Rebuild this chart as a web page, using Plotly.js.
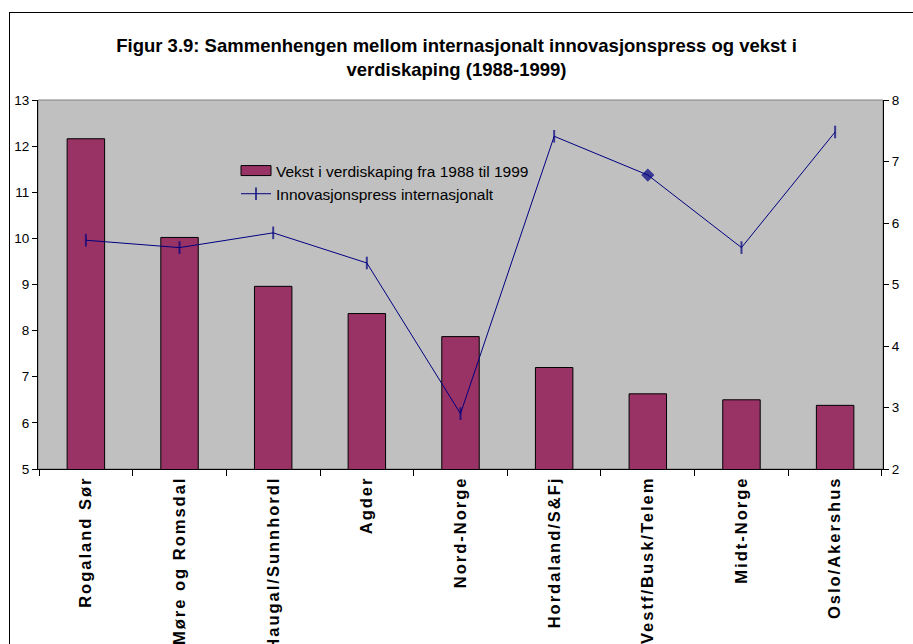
<!DOCTYPE html>
<html>
<head>
<meta charset="utf-8">
<script src="https://cdn.plot.ly/plotly-3.0.1.min.js"></script>
<style>
  html, body { margin: 0; padding: 0; background: #ffffff; }
  #wrap { position: relative; width: 913px; height: 644px; overflow: hidden; }
  #chart { position: absolute; left: 0; top: 0; width: 913px; height: 644px; }
  #frame { position: absolute; left: 9px; top: 12px; width: 910px; height: 700px; border: 1px solid #000; pointer-events: none; box-sizing: border-box; }
  .xtick text { letter-spacing: 2px; }
</style>
</head>
<body>
<div id="wrap">
  <div id="chart"></div>
  <div id="frame"></div>
</div>
<script>
const categories = ["Rogaland Sør", "Møre og Romsdal", "Haugal/Sunnhordl", "Agder", "Nord-Norge", "Hordaland/S&Fj", "Vestf/Busk/Telem", "Midt-Norge", "Oslo/Akershus"];
const vekst = [12.16, 10.02, 8.96, 8.37, 7.87, 7.20, 6.63, 6.50, 6.38];
const innovasjon = [5.72, 5.60, 5.84, 5.35, 2.90, 7.41, 6.78, 5.60, 7.48];
const vekstName = "Vekst i verdiskaping fra 1988 til 1999";
const innovName = "Innovasjonspress internasjonalt";
const titleText = "Figur 3.9: Sammenhengen mellom internasjonalt innovasjonspress og vekst i<br>verdiskaping (1988-1999)";
const leftTicks = [5, 6, 7, 8, 9, 10, 11, 12, 13];
const rightTicks = [2, 3, 4, 5, 6, 7, 8];

const FONT = "Liberation Sans, Arial, sans-serif";

const markerSymbols = categories.map((c, i) => i === 6 ? "diamond" : "line-ns");
const markerSizes = categories.map((c, i) => i === 6 ? 8 : 9);

const traces = [
  {
    type: "bar",
    x: categories,
    y: vekst,
    name: vekstName,
    marker: { color: "#993366", line: { color: "#000000", width: 1 } },
    yaxis: "y",
    hoverinfo: "x+y"
  },
  {
    type: "scatter",
    mode: "lines+markers",
    x: categories,
    y: innovasjon,
    name: innovName,
    yaxis: "y2",
    line: { color: "#000080", width: 1 },
    marker: { symbol: markerSymbols, size: markerSizes, color: "#000080", line: { color: "#000080", width: 2 } }
  }
];

const layout = {
  width: 913,
  height: 644,
  margin: { l: 38, r: 30, t: 100, b: 175 },
  paper_bgcolor: "rgba(0,0,0,0)",
  plot_bgcolor: "#C0C0C0",
  font: { family: FONT, size: 13, color: "#000000" },
  title: {
    text: titleText,
    font: { family: FONT, size: 18.5, color: "#000000", weight: "bold" },
    x: 0.5, xanchor: "center",
    y: 1 - 52 / 644, yref: "container", yanchor: "middle"
  },
  bargap: 0.6,
  showlegend: true,
  legend: {
    x: (236 - 38) / 845, xanchor: "left",
    y: (469 - 154) / 369, yanchor: "top",
    bgcolor: "rgba(0,0,0,0)",
    font: { family: FONT, size: 15.5, color: "#000000" },
    tracegroupgap: 0
  },
  xaxis: {
    type: "category",
    tickangle: -90,
    tickfont: { family: FONT, size: 16.5, color: "#000000", weight: "bold" },
    showline: true, linecolor: "#000000", linewidth: 1,
    ticks: "outside", ticklen: 6, tickcolor: "#000000",
    tickson: "boundaries",
    showgrid: false,
    automargin: false,
    fixedrange: true
  },
  yaxis: {
    range: [5, 13],
    tickvals: leftTicks,
    ticktext: leftTicks.map(String),
    showline: true, linecolor: "#000000", linewidth: 1,
    ticks: "outside", ticklen: 5, tickcolor: "#000000",
    showgrid: false, zeroline: false,
    tickfont: { family: FONT, size: 13.5, color: "#000000" },
    automargin: false
  },
  yaxis2: {
    range: [2, 8],
    tickvals: rightTicks,
    ticktext: rightTicks.map(String),
    overlaying: "y",
    side: "right",
    showline: true, linecolor: "#000000", linewidth: 1,
    ticks: "outside", ticklen: 5, tickcolor: "#000000",
    showgrid: false, zeroline: false,
    tickfont: { family: FONT, size: 13.5, color: "#000000" },
    automargin: false
  },
  shapes: [
    {
      type: "rect", xref: "paper", yref: "paper",
      x0: 0, x1: 1, y0: 0, y1: 1,
      line: { color: "#808080", width: 1 },
      layer: "below"
    }
  ]
};

Plotly.newPlot("chart", traces, layout, { displayModeBar: false, staticPlot: true }).then(function (gd) {
  // widen the bar legend swatch into an Excel-style rectangle
  const first = gd.querySelector(".legend .traces .legendbar path") ||
                gd.querySelector(".legend .traces .legendpoints path");
  if (first) first.setAttribute("d", "M15,5H-15V-5H15Z");
});
</script>
</body>
</html>
